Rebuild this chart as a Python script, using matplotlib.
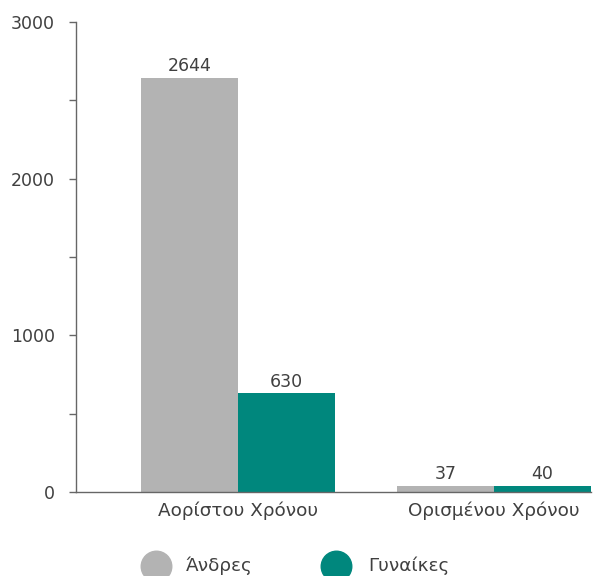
import numpy as np
import matplotlib.pyplot as plt
from matplotlib.lines import Line2D
from matplotlib.ticker import MultipleLocator

# Data
categories = ['Αορίστου Χρόνου', 'Ορισμένου Χρόνου']
men = [2644, 37]
women = [630, 40]
series_names = ['Άνδρες', 'Γυναίκες']

gray = '#b3b3b3'
teal = '#00877d'
text_col = '#404040'
fs = 12.5
fs_lab = 13.2

plt.rcParams['font.family'] = ['DejaVu Sans']

W, H = 598, 576
fig = plt.figure(figsize=(W / 100, H / 100), dpi=100)
ax = fig.add_axes([76 / W, 1 - 492 / H, (591 - 76) / W, (492 - 22) / H])

x = np.arange(len(categories))
w = 0.379
b1 = ax.bar(x - w / 2, men, width=w, color=gray)
b2 = ax.bar(x + w / 2, women, width=w, color=teal)

for bars in (b1, b2):
    for bar in bars:
        ax.annotate(f'{int(bar.get_height())}',
                    (bar.get_x() + bar.get_width() / 2, bar.get_height()),
                    textcoords='offset points', xytext=(0, 2),
                    ha='center', va='bottom', fontsize=fs, color=text_col)

ax.set_xlim(-0.633, 1.379)
ax.set_ylim(0, 3000)
ax.yaxis.set_major_locator(MultipleLocator(1000))
ax.yaxis.set_minor_locator(MultipleLocator(500))
ax.set_xticks(x)
ax.set_xticklabels(categories)

for s in ['top', 'right']:
    ax.spines[s].set_visible(False)
for s in ['left', 'bottom']:
    ax.spines[s].set_color('#666666')
    ax.spines[s].set_linewidth(1.0)

ax.tick_params(axis='y', which='both', length=5, width=1.0, color='#666666',
               labelsize=fs, labelcolor=text_col, pad=10)
ax.tick_params(axis='x', length=0, labelsize=fs_lab, labelcolor=text_col, pad=7)

# Legend drawn by hand in figure pixel positions
leg_y = 1 - 566 / H
for name, c, cx, tx in zip(series_names, (gray, teal), (156, 336), (186, 368)):
    fig.add_artist(Line2D([cx / W], [leg_y], marker='o', linestyle='',
                          markersize=22, color=c, transform=fig.transFigure))
    fig.text(tx / W, leg_y, name, ha='left', va='center', fontsize=fs_lab,
             color=text_col)

fig.savefig('out.png', dpi=100)
